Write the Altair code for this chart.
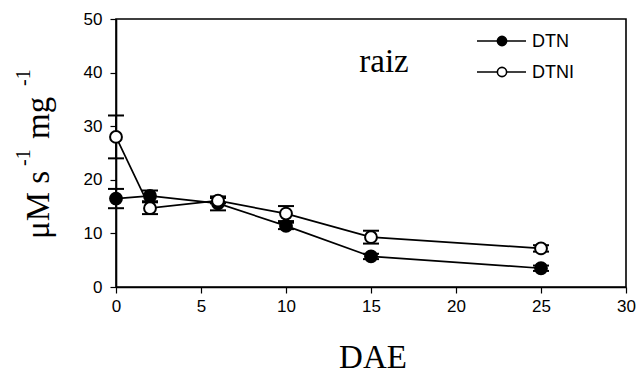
import altair as alt
import pandas as pd

# ---- data ----
days = [0, 2, 6, 10, 15, 25]
series_names = ["DTN", "DTNI"]
dtn = [16.5, 17.0, 15.6, 11.4, 5.7, 3.5]
dtn_err = [1.8, 1.0, 1.3, 0.6, 0.5, 0.5]
dtni = [28.0, 14.7, 16.1, 13.7, 9.3, 7.2]
dtni_err = [4.0, 1.1, 0.5, 1.4, 1.2, 0.6]
x_ticks = [0, 5, 10, 15, 20, 25, 30]
y_ticks = [0, 10, 20, 30, 40, 50]

rows = []
for name, vals, errs in [(series_names[0], dtn, dtn_err), (series_names[1], dtni, dtni_err)]:
    for d, v, e in zip(days, vals, errs):
        rows.append({"series": name, "day": d, "value": v, "lo": v - e, "hi": v + e})
df = pd.DataFrame(rows)

W, H = 510, 268
SERIF = "Liberation Serif"
SANS = "Liberation Sans"

xs = alt.X("day:Q", scale=alt.Scale(domain=[0, 30], nice=False),
           axis=alt.Axis(values=x_ticks, title=None, labelPadding=5, format="d", labelFlush=False))
ys = alt.Y("value:Q", scale=alt.Scale(domain=[0, 50], nice=False),
           axis=alt.Axis(values=y_ticks, title=None, labelPadding=8, format="d", labelFlush=False))

base = alt.Chart(df)
fill_scale = alt.Scale(domain=series_names, range=["black", "white"])

lines = base.mark_line(color="black", strokeWidth=1.7).encode(x=xs, y=ys, detail="series:N")
bars = base.mark_rule(color="black", strokeWidth=1.6).encode(x="day:Q", y="lo:Q", y2="hi:Q")
cap_hi = base.mark_tick(orient="horizontal", size=16, thickness=2, color="black", opacity=1).encode(x="day:Q", y="hi:Q")
cap_lo = base.mark_tick(orient="horizontal", size=16, thickness=2, color="black", opacity=1).encode(x="day:Q", y="lo:Q")
pts = base.mark_circle(size=140, stroke="black", strokeWidth=2, opacity=1).encode(
    x="day:Q", y="value:Q",
    fill=alt.Fill("series:N", scale=fill_scale, legend=None),
)


def label(text, x, y, size, font, angle=0, align="left"):
    return alt.Chart(pd.DataFrame({"t": [text]})).mark_text(
        font=font, fontSize=size, color="black", angle=angle, align=align, baseline="alphabetic"
    ).encode(text="t:N", x=alt.value(x), y=alt.value(y))


annotations = [
    label("raiz", 268, 53, 33, SERIF, align="center"),
    label("DAE", 257, 349, 33, SERIF, align="center"),
    # y-axis title built from pieces: μM s^-1 mg^-1
    label("μM s", -67, 220, 33, SERIF, angle=270),
    label("-1", -86, 147, 20, SERIF, angle=270),
    label("mg", -67, 120, 33, SERIF, angle=270),
    label("-1", -86, 67, 20, SERIF, angle=270),
]

# manual legend (line + marker + label)
legend_layers = []
leg_y0, leg_dy = 22, 31
for i, name in enumerate(series_names):
    yy = leg_y0 + i * leg_dy
    one = pd.DataFrame({"series": [name]})
    legend_layers.append(
        alt.Chart(one).mark_rule(color="black", strokeWidth=1.6).encode(
            x=alt.value(361), x2=alt.value(410), y=alt.value(yy))
    )
    legend_layers.append(
        alt.Chart(one).mark_circle(size=85, stroke="black", strokeWidth=1.6, opacity=1).encode(
            x=alt.value(386), y=alt.value(yy),
            fill=alt.Fill("series:N", scale=fill_scale, legend=None))
    )
    legend_layers.append(
        alt.Chart(one).mark_text(font=SANS, fontSize=18, color="black", align="left", baseline="middle").encode(
            text="series:N", x=alt.value(416), y=alt.value(yy + 1))
    )

chart = alt.layer(lines, bars, cap_hi, cap_lo, pts, *annotations, *legend_layers).properties(
    width=W, height=H,
    autosize=alt.AutoSizeParams(type="none"),
    padding={"left": 116, "top": 19, "right": 15, "bottom": 93},
    background="white",
).configure_view(
    stroke="black", strokeWidth=1.6
).configure_axis(
    grid=False, domainColor="black", domainWidth=1.6,
    tickColor="black", tickWidth=1.2, tickSize=6,
    labelFont=SANS, labelFontSize=17, labelColor="black",
)

chart.save("out.html", embed_options={"renderer": "svg", "actions": False})
